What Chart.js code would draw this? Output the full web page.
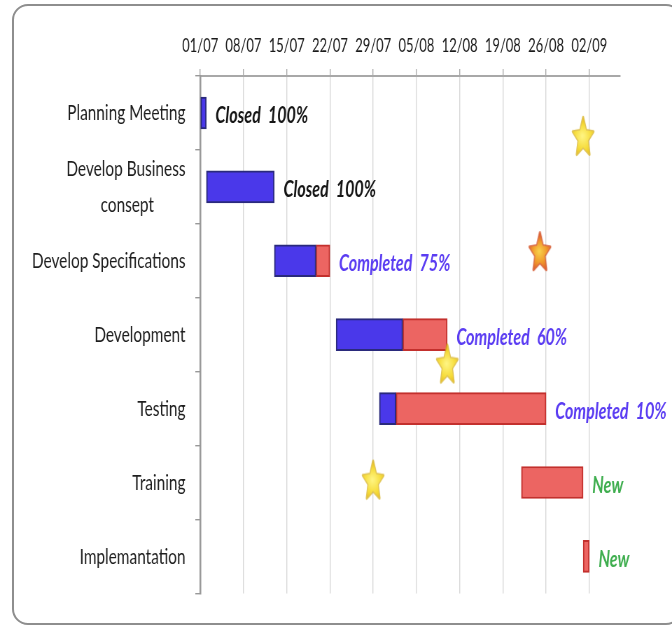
<!DOCTYPE html>
<html>
<head>
<meta charset="utf-8">
<script src="https://cdn.jsdelivr.net/npm/chart.js@4/dist/chart.umd.min.js"></script>
<style>
  html, body { margin: 0; padding: 0; background: #ffffff; }
  #wrap { position: relative; width: 672px; height: 625px; overflow: hidden; background: #fff; }
  #scaler { position: absolute; left: 0; top: 0; width: 960px; height: 625px;
            transform: scaleX(0.7); transform-origin: 0 0; }
  #frame { position: absolute; left: 12px; top: 4px; width: 666px; height: 617px;
           border: 2px solid #8e8e8e; border-radius: 16px; pointer-events: none; }
</style>
</head>
<body>
<div id="wrap">
  <div id="scaler"><canvas id="c" width="960" height="625"></canvas></div>
  <div id="frame"></div>
</div>
<script>
// ---- data ----
const categories = ['Planning Meeting', ['Develop Business', 'consept'], 'Develop Specifications',
                    'Development', 'Testing', 'Training', 'Implemantation'];
const startDays = [0, 1, 12, 22, 29, 52, 62];          // days after 01/07
const durations = [1, 11, 9, 18, 27, 10, 1];           // days
const percentComplete = [100, 100, 75, 60, 10, 0, 0];
const statusText = ['Closed  100%', 'Closed  100%', 'Completed  75%', 'Completed  60%',
                    'Completed  10%', 'New', 'New'];
const statusKind = ['closed', 'closed', 'progress', 'progress', 'progress', 'new', 'new'];
const tickDays = [0, 7, 14, 21, 28, 35, 42, 49, 56, 63];
const tickLabels = ['01/07', '08/07', '15/07', '22/07', '29/07', '05/08', '12/08', '19/08', '26/08', '02/09'];
const milestoneDays = [62, 55, 40, 28];
const milestoneRows = [0.31, 1.87, 3.39, 4.96];
const milestoneKind = ['yellow', 'orange', 'yellow', 'yellow'];

// ---- derived ----
const doneBars = startDays.map((s, i) => percentComplete[i] > 0 ? [s, s + durations[i] * percentComplete[i] / 100] : null);
const todoBars = startDays.map((s, i) => percentComplete[i] < 100 ? [s + durations[i] * percentComplete[i] / 100, s + durations[i]] : null);
const milestones = milestoneDays.map((d, i) => ({ x: d, y: milestoneRows[i] }));

const FONT = "Lato, 'Open Sans', sans-serif";
const Y_FONT_SIZE = 22;

function makeStar(kind) {
  const w = 36, h = 44;
  const cv = document.createElement('canvas');
  cv.width = w; cv.height = h;
  const g = cv.getContext('2d');
  const cx = w / 2, cy = h / 2 + 2;
  const Rx = 15.5, Ry = 20.5, k2 = 0.45;
  g.beginPath();
  for (let k = 0; k < 10; k++) {
    const a = -Math.PI / 2 + k * Math.PI / 5;
    const f = k % 2 === 0 ? 1 : k2;
    const px = cx + Rx * f * Math.cos(a);
    const py = cy + Ry * f * Math.sin(a);
    if (k === 0) g.moveTo(px, py); else g.lineTo(px, py);
  }
  g.closePath();
  g.lineJoin = 'round';
  const grad = g.createRadialGradient(cx - 1, cy - 2, 1, cx, cy, 20);
  if (kind === 'orange') {
    grad.addColorStop(0, '#f8cf4c');
    grad.addColorStop(0.5, '#f09a2c');
    grad.addColorStop(1, '#d8502a');
    g.strokeStyle = 'rgba(212,82,40,0.85)';
  } else {
    grad.addColorStop(0, '#fff480');
    grad.addColorStop(0.6, '#f6dc3a');
    grad.addColorStop(1, '#e2b61e');
    g.strokeStyle = 'rgba(214,176,30,0.75)';
  }
  g.fillStyle = grad;
  g.lineWidth = 3;
  g.stroke();
  g.fill();
  return cv;
}
const starImgs = milestoneKind.map(makeStar);

// centre the second line of a two-line category under the first one
const measureCtx = document.createElement('canvas').getContext('2d');
measureCtx.font = Y_FONT_SIZE + 'px ' + FONT;
function centredLines(lines) {
  const w0 = measureCtx.measureText(lines[0]).width;
  return lines.map(l => {
    const d = (w0 - measureCtx.measureText(l).width) / 2;
    const n = Math.max(0, Math.round(d / measureCtx.measureText(' ').width));
    return l + ' '.repeat(n);
  });
}

const statusLabelPlugin = {
  id: 'statusLabels',
  afterDatasetsDraw(chart) {
    const ctx = chart.ctx;
    const xs = chart.scales.x, ys = chart.scales.y;
    ctx.save();
    ctx.textBaseline = 'middle';
    ctx.textAlign = 'left';
    categories.forEach((c, i) => {
      const endX = xs.getPixelForValue(startDays[i] + durations[i]);
      const y = ys.getPixelForValue(i);
      const kind = statusKind[i];
      ctx.font = 'italic bold 23px ' + FONT;
      ctx.fillStyle = kind === 'closed' ? '#151515' : (kind === 'progress' ? '#5a3cf2' : '#3fae4f');
      ctx.fillText(statusText[i], endX + 13, y + 3);
    });
    ctx.restore();
  }
};

new Chart(document.getElementById('c'), {
  type: 'bar',
  data: {
    labels: categories,
    datasets: [
      {
        label: 'Done',
        data: doneBars,
        backgroundColor: '#4a38ea',
        borderColor: '#2a2a7c',
        borderWidth: 2,
        borderSkipped: false,
        barThickness: 32,
        grouped: false,
        yAxisID: 'y',
        order: 2
      },
      {
        label: 'Remaining',
        data: todoBars,
        backgroundColor: '#ec6562',
        borderColor: '#c3302d',
        borderWidth: 2,
        borderSkipped: false,
        barThickness: 32,
        grouped: false,
        yAxisID: 'y',
        order: 2
      },
      {
        type: 'scatter',
        label: 'Milestones',
        data: milestones,
        yAxisID: 'y2',
        xAxisID: 'x',
        pointStyle: starImgs,
        pointRadius: 15,
        order: 1
      }
    ]
  },
  options: {
    indexAxis: 'y',
    responsive: false,
    animation: false,
    layout: { padding: { left: 0, right: 74, top: 0, bottom: 29 } },
    plugins: { legend: { display: false }, tooltip: { enabled: false } },
    scales: {
      x: {
        type: 'linear',
        position: 'top',
        min: 0,
        max: 68,
        afterBuildTicks: (axis) => { axis.ticks = tickDays.map(v => ({ value: v })); },
        afterFit: (axis) => { axis.height = 76; },
        ticks: {
          callback: (v) => tickLabels[tickDays.indexOf(v)],
          font: { family: FONT, size: 18.5 },
          color: '#1a1a1a',
          padding: 12,
          maxRotation: 0
        },
        grid: { color: '#d8d8d8', lineWidth: 1.4, tickLength: 7, tickColor: '#aaaaaa' },
        border: { color: '#a8a8a8', width: 2 }
      },
      y: {
        type: 'category',
        position: 'left',
        offset: true,
        afterFit: (axis) => { axis.width = 286; },
        ticks: {
          font: { family: FONT, size: Y_FONT_SIZE, lineHeight: 1.6 },
          color: '#1e1e1e',
          padding: 14,
          callback: function (v, i) {
            const l = categories[i];
            return Array.isArray(l) ? centredLines(l) : l;
          }
        },
        grid: { drawOnChartArea: false, drawTicks: true, tickLength: 7, color: '#999999', offset: true, lineWidth: 1.4 },
        border: { color: '#999999', width: 2.5 }
      },
      y2: {
        type: 'linear',
        display: false,
        offset: false,
        reverse: true,
        min: -0.5,
        max: 6.5
      }
    }
  },
  plugins: [statusLabelPlugin]
});
</script>
</body>
</html>
